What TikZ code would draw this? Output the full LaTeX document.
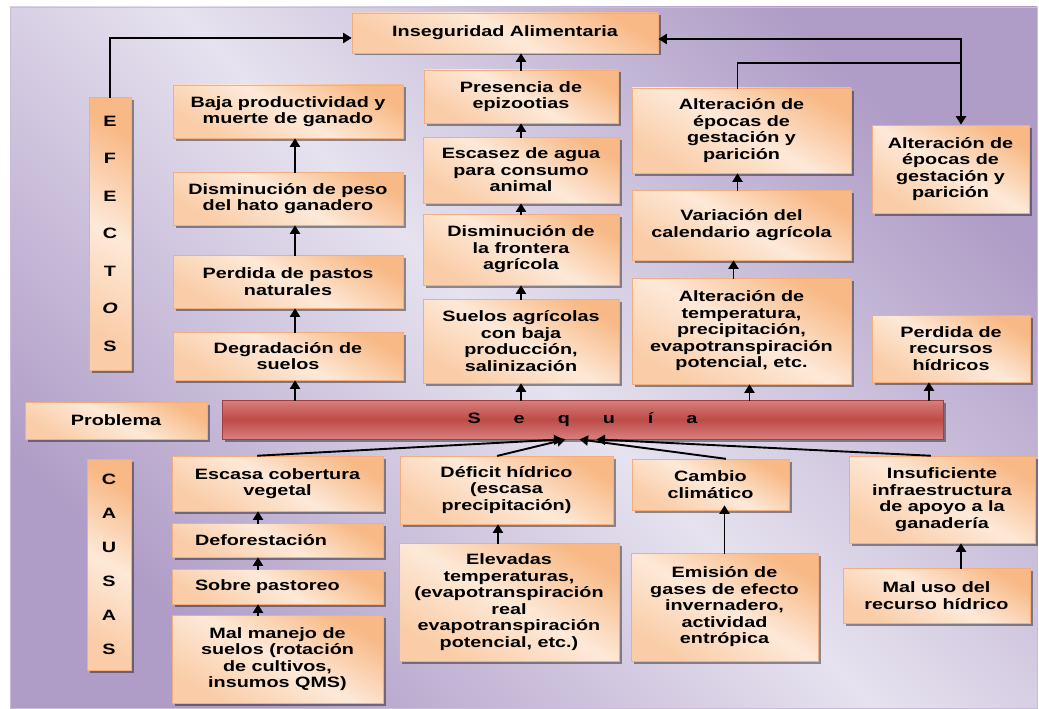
\documentclass[tikz,border=0pt]{standalone}
\usepackage{fontspec}
\setmainfont{Liberation Sans}[FakeStretch=1.32]
\usetikzlibrary{arrows.meta,shadows}
\definecolor{fondoclaro}{HTML}{E6E2EF}
\definecolor{fondooscuro}{HTML}{B09DC7}
\definecolor{fondoborde}{HTML}{C8BCDA}
\definecolor{cajaosc}{HTML}{F8B986}
\definecolor{cajaclara}{HTML}{FDE9D8}
\definecolor{cajaborde}{HTML}{F2AE7C}
\definecolor{rojoclaro}{HTML}{D8807E}
\definecolor{rojo}{HTML}{BC4B48}
\definecolor{rojoborde}{HTML}{A23E3B}

\begin{document}
\begin{tikzpicture}[x=1pt,y=-1pt,
  caja/.style={draw=cajaborde, line width=0.6pt, top color=cajaosc, bottom color=cajaosc!60!cajaclara, middle color=cajaclara, shading angle=-30,
    drop shadow={shadow xshift=2.5pt, shadow yshift=-2.5pt, fill=black, opacity=0.4},
    align=center, inner sep=2pt, font=\bfseries\fontsize{15}{16.5}\selectfont},
  letras/.style={caja, inner sep=0pt},
  barra/.style={draw=rojoborde, line width=0.8pt, top color=rojoclaro, bottom color=rojoclaro, middle color=rojo,
    drop shadow={shadow xshift=2.5pt, shadow yshift=-2.5pt, fill=black, opacity=0.4},
    font=\bfseries\fontsize{15}{16.5}\selectfont},
  linea/.style={line width=1.9pt, line cap=rect},
  flecha/.style={linea, -{Triangle[length=8.5pt,width=10pt]}}]
\useasboundingbox (0,0) rectangle (1039,709);
\shade[draw=fondoborde, top color=fondooscuro, bottom color=fondooscuro, middle color=fondoclaro, shading angle=-45] (10,7) rectangle (1037,708);

% Efectos
\node[caja, minimum width=306pt, minimum height=40pt] (inseg) at (505,33) {Inseguridad Alimentaria};
\node[letras, minimum width=42pt, minimum height=273pt, font=\bfseries\fontsize{15}{37.5}\selectfont] (efectos) at (110,233.5) {E\\F\\E\\C\\T\\\textit{O}\\S};
\node[caja, minimum width=230pt, minimum height=53pt] (baja) at (288,111.5) {Baja productividad y\\muerte de ganado};
\node[caja, minimum width=230pt, minimum height=53pt] (peso) at (288,198.5) {Disminución de peso\\del hato ganadero};
\node[caja, minimum width=230pt, minimum height=53pt] (pastos) at (288,281.5) {Perdida de pastos\\naturales};
\node[caja, minimum width=230pt, minimum height=48pt] (degrad) at (288,356) {Degradación de\\suelos};
\node[caja, minimum width=194pt, minimum height=53pt] (presencia) at (521,96.5) {Presencia de\\epizootias};
\node[caja, minimum width=196pt, minimum height=66pt] (escasez) at (521,170) {Escasez de agua\\para consumo\\animal};
\node[caja, minimum width=196pt, minimum height=71pt] (frontera) at (521,249.5) {Disminución de\\la frontera\\agrícola};
\node[caja, minimum width=196pt, minimum height=84pt] (suelosagr) at (521,341) {Suelos agrícolas\\con baja\\producción,\\salinización};
\node[caja, minimum width=219pt, minimum height=85pt] (epocas) at (741.5,130.5) {Alteración de\\épocas de\\gestación y\\parición};
\node[caja, minimum width=219pt, minimum height=70pt] (calend) at (741.5,225) {Variación del\\calendario agrícola};
\node[caja, minimum width=219pt, minimum height=106pt] (altemp) at (741.5,331) {Alteración de\\temperatura,\\precipitación,\\evapotranspiración\\potencial, etc.};
\node[caja, minimum width=157pt, minimum height=88pt] (epocasb) at (950.5,169) {Alteración de\\épocas de\\gestación y\\parición};
\node[caja, minimum width=158pt, minimum height=67pt] (recursos) at (951,348.5) {Perdida de\\recursos\\hídricos};

% Problema
\node[caja, minimum width=182pt, minimum height=37pt] (problema) at (116,420.5) {Problema};
\node[barra, minimum width=721pt, minimum height=39pt] (sequia) at (582.5,419.5) {S\hspace{33pt}e\hspace{33pt}q\hspace{33pt}u\hspace{33pt}í\hspace{33pt}a};

% Causas
\node[letras, minimum width=44pt, minimum height=211pt, font=\bfseries\fontsize{15}{34}\selectfont] (causas) at (109,564.5) {C\\A\\U\\S\\A\\S};
\node[caja, minimum width=211pt, minimum height=55pt] (escasa) at (277.5,483.5) {Escasa cobertura\\vegetal};
\node[caja, align=left, inner xsep=23pt, text width=165pt, minimum height=34pt] (defor) at (277.5,540) {Deforestación};
\node[caja, align=left, inner xsep=23pt, text width=165pt, minimum height=35pt] (sobre) at (277.5,586.5) {Sobre pastoreo};
\node[caja, minimum width=211pt, minimum height=88pt] (malmanejo) at (277.5,659) {Mal manejo de\\suelos (rotación\\de cultivos,\\insumos QMS)};
\node[caja, minimum width=213pt, minimum height=68pt] (deficit) at (506.5,490) {Déficit hídrico\\(escasa\\precipitación)};
\node[caja, minimum width=220pt, minimum height=118pt] (elevadas) at (509,602) {Elevadas\\temperaturas,\\(evapotranspiración\\real\\evapotranspiración\\potencial, etc.)};
\node[caja, minimum width=157pt, minimum height=51pt] (cambio) at (710.5,484.5) {Cambio\\climático};
\node[caja, minimum width=187pt, minimum height=108pt] (emision) at (724.5,607) {Emisión de\\gases de efecto\\invernadero,\\actividad\\entrópica};
\node[caja, minimum width=186pt, minimum height=87pt] (insuf) at (942,499.5) {Insuficiente\\infraestructura\\de apoyo a la\\ganadería};
\node[caja, minimum width=187pt, minimum height=55pt] (maluso) at (936.5,595.5) {Mal uso del\\recurso hídrico};

% Los enlaces:
\draw[flecha] (efectos.north) |- ([yshift=-5pt]inseg.west);
\draw[flecha] ([xshift=7pt]peso.north) -- ([xshift=7pt]baja.south);
\draw[flecha] ([xshift=7pt]pastos.north) -- ([xshift=7pt]peso.south);
\draw[flecha] ([xshift=7pt]degrad.north) -- ([xshift=7pt]pastos.south);
\draw[flecha] ([xshift=7pt]degrad.south |- sequia.north) -- ([xshift=7pt]degrad.south);
\draw[flecha] (presencia.north) -- (presencia.north |- inseg.south);
\draw[flecha] (escasez.north) -- (presencia.south);
\draw[flecha] (frontera.north) -- (escasez.south);
\draw[flecha] (suelosagr.north) -- (frontera.south);
\draw[flecha] (suelosagr.south |- sequia.north) -- (suelosagr.south);
\draw[flecha] ([xshift=-4pt]calend.north) -- ([xshift=-4pt]epocas.south);
\draw[flecha] ([xshift=-8pt]altemp.north) -- ([xshift=-8pt]calend.south);
\draw[flecha] ([xshift=8pt]altemp.south |- sequia.north) -- ([xshift=8pt]altemp.south);
\draw[flecha] ([xshift=-22pt]recursos.south |- sequia.north) -- ([xshift=-22pt]recursos.south);

% Vuelta a la inseguridad
\coordinate (codo) at (961,39);
\coordinate (nudo) at (961,63);
\draw[linea] ([xshift=-4pt]epocas.north) |- (nudo);
\draw[flecha] (codo) -- (codo -| inseg.east);
\draw[flecha] (codo) -- (codo |- epocasb.north);

% Enlaces de causas
\draw[flecha] ([xshift=-19.5pt]defor.north) -- ([xshift=-19.5pt]escasa.south);
\draw[flecha] ([xshift=-19.5pt]sobre.north) -- ([xshift=-19.5pt]defor.south);
\draw[flecha] ([xshift=-19.5pt]malmanejo.north) -- ([xshift=-19.5pt]sobre.south);
\draw[flecha] ([xshift=-11pt]elevadas.north) -- ([xshift=-11pt]elevadas.north |- deficit.south);
\draw[flecha, shorten >=-5pt] (emision.north) -- (emision.north |- cambio.south);
\draw[flecha] ([xshift=24.5pt]maluso.north) -- ([xshift=24.5pt]maluso.north |- insuf.south);
\draw[flecha] ([xshift=-19.5pt]escasa.north) -- ([xshift=-20pt]sequia.south);
\draw[flecha] ([xshift=-8.5pt]deficit.north) -- ([xshift=-17pt]sequia.south);
\draw[flecha] ([xshift=14.5pt]cambio.north) -- ([xshift=-3pt]sequia.south);
\draw[flecha] ([xshift=-12pt]insuf.north) -- ([xshift=14pt]sequia.south);
\end{tikzpicture}
\end{document}
